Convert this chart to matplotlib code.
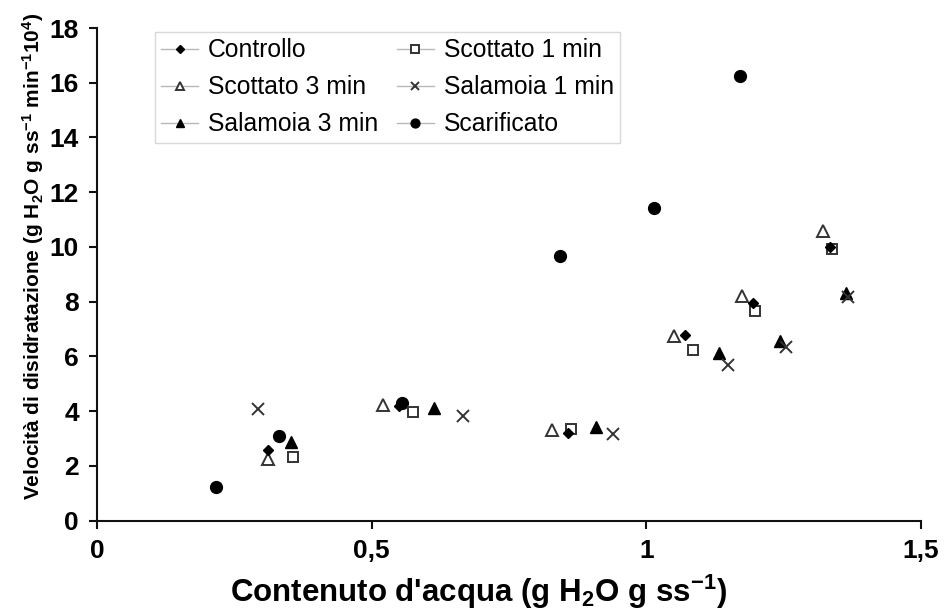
import matplotlib
matplotlib.use("Agg")
import matplotlib.pyplot as plt
from matplotlib.lines import Line2D

plt.rcParams['font.family'] = ['Liberation Sans', 'DejaVu Sans']
plt.rcParams['mathtext.fontset'] = 'custom'
plt.rcParams['mathtext.rm'] = 'Liberation Sans:bold'
plt.rcParams['mathtext.it'] = 'Liberation Sans:bold'
plt.rcParams['mathtext.bf'] = 'Liberation Sans:bold'
plt.rcParams['mathtext.default'] = 'rm'

series_names = ["Controllo", "Scottato 1 min", "Scottato 3 min",
                "Salamoia 1 min", "Salamoia 3 min", "Scarificato"]

controllo_x = [0.311, 0.550, 0.857, 1.070, 1.194, 1.334]
controllo_y = [2.58, 4.19, 3.20, 6.78, 7.95, 10.0]

scottato1_x = [0.357, 0.575, 0.863, 1.085, 1.198, 1.338]
scottato1_y = [2.33, 3.97, 3.35, 6.24, 7.66, 9.92]

scottato3_x = [0.311, 0.521, 0.828, 1.050, 1.174, 1.322]
scottato3_y = [2.25, 4.23, 3.31, 6.75, 8.21, 10.58]

salamoia1_x = [0.293, 0.666, 0.939, 1.149, 1.254, 1.367]
salamoia1_y = [4.08, 3.83, 3.17, 5.69, 6.35, 8.17]

salamoia3_x = [0.353, 0.614, 0.908, 1.132, 1.243, 1.364]
salamoia3_y = [2.88, 4.12, 3.43, 6.13, 6.57, 8.32]

scarificato_x = [0.217, 0.331, 0.555, 0.843, 1.014, 1.171]
scarificato_y = [1.23, 3.09, 4.30, 9.67, 11.42, 16.25]

x_ticks = [0, 0.5, 1, 1.5]
x_tick_labels = ["0", "0,5", "1", "1,5"]
y_ticks = [0, 2, 4, 6, 8, 10, 12, 14, 16, 18]

fig = plt.figure(figsize=(9.44, 6.12), dpi=100)
ax = fig.add_axes([97/944, 1-520.7/612, (921-97)/944, (520.7-28)/612])

styles = {
    "Controllo": dict(marker='D', ms=5.5, mfc='black', mec='black', mew=1),
    "Scottato 1 min": dict(marker='s', ms=7.5, mfc='white', mec='#333333', mew=1.4),
    "Scottato 3 min": dict(marker='^', ms=8, mfc='white', mec='#333333', mew=1.4),
    "Salamoia 1 min": dict(marker='x', ms=8.5, mfc='none', mec='#333333', mew=1.4),
    "Salamoia 3 min": dict(marker='^', ms=8, mfc='black', mec='black', mew=1),
    "Scarificato": dict(marker='o', ms=8.5, mfc='black', mec='black', mew=1),
}
data = {
    "Controllo": (controllo_x, controllo_y),
    "Scottato 1 min": (scottato1_x, scottato1_y),
    "Scottato 3 min": (scottato3_x, scottato3_y),
    "Salamoia 1 min": (salamoia1_x, salamoia1_y),
    "Salamoia 3 min": (salamoia3_x, salamoia3_y),
    "Scarificato": (scarificato_x, scarificato_y),
}
draw_order = ["Scarificato", "Scottato 3 min", "Scottato 1 min", "Controllo",
              "Salamoia 3 min", "Salamoia 1 min"]
for name in draw_order:
    xs, ys = data[name]
    ax.plot(xs, ys, linestyle='none', zorder=3, clip_on=False, **styles[name])

ax.set_xlim(0, 1.5)
ax.set_ylim(0, 18)
ax.set_xticks(x_ticks)
ax.set_xticklabels(x_tick_labels)
ax.set_yticks(y_ticks)
for s in ['top', 'right']:
    ax.spines[s].set_visible(False)
for s in ['left', 'bottom']:
    ax.spines[s].set_linewidth(1.5)
    ax.spines[s].set_color('#111111')
ax.tick_params(axis='both', direction='out', length=6, width=1.5, colors='#111111',
               labelsize=19, pad=7)
for lab in ax.get_xticklabels() + ax.get_yticklabels():
    lab.set_fontweight('bold')
    lab.set_color('black')

ax.set_xlabel("Contenuto d'acqua (g H$_2$O g ss$^{-1}$)", fontsize=22.5,
              fontweight='bold', va='center')
ax.xaxis.set_label_coords((478 - 97) / 824, -(592 - 520.7) / 492.7)
ax.set_ylabel("Velocità di disidratazione (g H$_2$O g ss$^{-1}$ min$^{-1}$10$^4$)",
              fontsize=15, fontweight='bold', va='center')
ax.yaxis.set_label_coords((33 - 97) / 824, (520.7 - 256) / 492.7)

legend_order = ["Controllo", "Scottato 3 min", "Salamoia 3 min",
                "Scottato 1 min", "Salamoia 1 min", "Scarificato"]
handles = []
for name in legend_order:
    st = dict(styles[name])
    ms = st.pop('ms')
    handles.append(Line2D([0], [0], color='#b8b8b8', lw=1, ms=ms * 0.75, **st))
leg = ax.legend(handles, legend_order, ncol=2, loc='upper left',
                bbox_to_anchor=(58/824, 1 - 4/492.7), fontsize=17.8,
                frameon=True, fancybox=False, edgecolor='#d0d0d0',
                handlelength=1.5, handletextpad=0.4, columnspacing=0.75,
                labelspacing=0.53, borderpad=0.25, borderaxespad=0)
leg.get_frame().set_linewidth(1.0)

fig.savefig("out.png", dpi=100)
